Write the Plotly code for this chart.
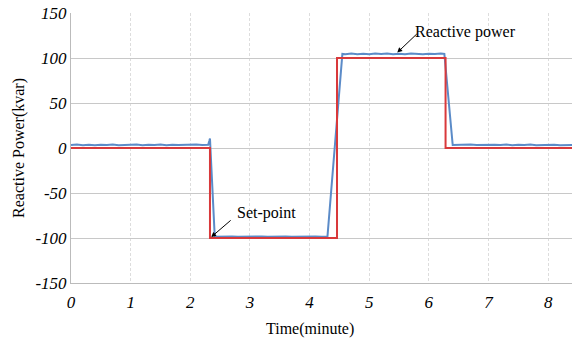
import plotly.graph_objects as go

# Set-point (red step)
sp_t = [0.0, 2.33, 2.33, 4.46, 4.46, 6.28, 6.28, 8.4]
sp_v = [0, 0, -100, -100, 100, 100, 0, 0]

# Measured reactive power (blue)
rp_t = [0.0, 0.1, 0.2, 0.3, 0.4, 0.5, 0.6, 0.7, 0.8, 0.9, 1.0, 1.1, 1.2, 1.3, 1.4, 1.5,
        1.6, 1.7, 1.8, 1.9, 2.0, 2.1, 2.2, 2.3, 2.32, 2.33, 2.41,
        2.5, 2.6, 2.7, 2.8, 2.9, 3.0, 3.1, 3.2, 3.3, 3.4, 3.5, 3.6, 3.7, 3.8, 3.9, 4.0,
        4.1, 4.2, 4.3, 4.55,
        4.6, 4.7, 4.8, 4.9, 5.0, 5.1, 5.2, 5.3, 5.4, 5.5, 5.6, 5.7, 5.8, 5.9, 6.0, 6.1,
        6.2, 6.26, 6.40,
        6.5, 6.6, 6.7, 6.8, 6.9, 7.0, 7.1, 7.2, 7.3, 7.4, 7.5, 7.6, 7.7, 7.8, 7.9, 8.0,
        8.1, 8.2, 8.3, 8.4]
rp_v = [3.2, 3.8, 3.1, 3.6, 3.0, 3.7, 3.3, 3.9, 3.1, 3.5, 3.2, 3.8, 3.0, 3.6, 3.3, 3.9,
        3.1, 3.7, 3.2, 3.5, 3.0, 3.8, 3.3, 3.5, 8.0, 10.5, -98.5,
        -98.3, -98.6, -98.2, -98.5, -98.3, -98.7, -98.4, -98.2, -98.6, -98.3, -98.5, -98.2, -98.6, -98.4, -98.3, -98.5,
        -98.2, -98.6, -98.4, 104.5,
        104.2, 105.0, 104.3, 104.8, 104.1, 104.9, 104.4, 105.1, 104.2, 104.7, 104.3, 104.9, 104.5, 104.2, 104.8, 104.4,
        104.9, 104.6, 3.3,
        3.6, 3.1, 3.8, 3.2, 3.5, 3.0, 3.7, 3.3, 3.9, 3.1, 3.6, 3.2, 3.8, 3.0, 3.5, 3.3,
        3.7, 3.1, 3.6, 3.4]

x_ticks = [0, 1, 2, 3, 4, 5, 6, 7, 8]
x_tick_text = ["0", "1", "2", "3", "4", "5", "6", "7", "8"]
y_ticks = [-150, -100, -50, 0, 50, 100, 150]
y_tick_text = ["-150", "-100", "-50", "0", "50", "100", "150"]

FONT = "Liberation Serif, Times New Roman, serif"

fig = go.Figure()
fig.add_trace(go.Scatter(x=rp_t, y=rp_v, mode="lines",
                         line=dict(color="#5B8BC8", width=2), name="Reactive power"))
fig.add_trace(go.Scatter(x=sp_t, y=sp_v, mode="lines",
                         line=dict(color="#D9393B", width=2), name="Set-point"))

fig.add_annotation(x=5.47, y=106, ax=21, ay=-20, text="", showarrow=True,
                   arrowhead=2, arrowsize=1, arrowwidth=1, arrowcolor="black")
fig.add_annotation(x=2.35, y=-99, ax=21, ay=-18, text="", showarrow=True,
                   arrowhead=2, arrowsize=1, arrowwidth=1, arrowcolor="black")
fig.add_annotation(x=6.62, y=129, text="Reactive power", showarrow=False, xanchor="center",
                   font=dict(family=FONT, size=16, color="black"))
fig.add_annotation(x=3.28, y=-72, text="Set-point", showarrow=False, xanchor="center",
                   font=dict(family=FONT, size=16, color="black"))
# x-axis title (slightly left of the plot centre, as in the reference)
fig.add_annotation(xref="paper", yref="paper", x=(310 - 71) / 501, y=-(329 - 283) / 270,
                   text="Time(minute)", showarrow=False, xanchor="center", yanchor="middle",
                   font=dict(family=FONT, size=16, color="black"))

fig.update_layout(
    width=575, height=340,
    margin=dict(l=71, r=3, t=13, b=57),
    paper_bgcolor="white", plot_bgcolor="white",
    showlegend=False,
    font=dict(family=FONT, size=15, color="black"),
)
fig.update_xaxes(range=[0, 8.4], tickvals=x_ticks,
                 ticktext=["<i>" + t + "</i>" for t in x_tick_text],
                 tickfont=dict(family=FONT, size=17),
                 showgrid=True, gridcolor="#DDDDDD", griddash="3px,2px", gridwidth=1,
                 showline=True, linecolor="#BBBBBB", linewidth=1, zeroline=False,
                 ticks="", ticklen=0, ticklabelstandoff=4)
fig.update_yaxes(range=[-150, 150], tickvals=y_ticks,
                 ticktext=["<i>" + t + "</i>" for t in y_tick_text],
                 tickfont=dict(family=FONT, size=17),
                 showgrid=True, gridcolor="#C8C8C8", gridwidth=1,
                 showline=True, linecolor="#BBBBBB", linewidth=1, zeroline=False,
                 ticks="",
                 title=dict(text="Reactive Power(kvar)", font=dict(family=FONT, size=16), standoff=6))

fig.write_html("out.html")
